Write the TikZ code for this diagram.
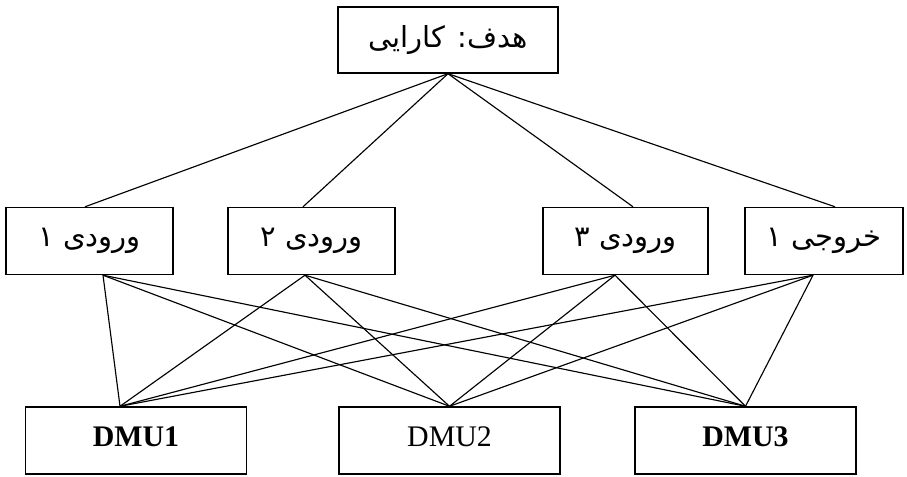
\documentclass[tikz,border=0pt]{standalone}
\usepackage{fontspec}
\setmainfont{Liberation Serif}
\newfontfamily\arabicfont[Script=Arabic]{DejaVu Sans}
\TeXXeTstate=1

\begin{document}
\begin{tikzpicture}

\def\boxh{1.34cm}
\def\midw{3.34cm}
\def\dmuw{4.42cm}
\def\midy{4.72}
\def\dmuy{0.73}
\def\dmulift{0.16cm}

\tikzset{box/.style = {draw, rectangle, line width=0.8pt, inner sep=0pt, minimum height=\boxh}}
\tikzset{fa/.style = {box, minimum width=\midw, font=\arabicfont\fontsize{16.5}{19}\selectfont}}
\tikzset{dmu/.style = {box, minimum width=\dmuw, font=\fontsize{17}{20}\selectfont}}
\tikzset{link/.style = {line width=0.65pt}}

\useasboundingbox (0,0) rectangle (18.14,9.54);

% goal
\node[fa, minimum width=4.4cm, minimum height=1.32cm] (goal) at (8.96,8.74) {\beginR هدف: کارایی\endR};

% inputs and output
\node[fa] (in1) at (1.79,\midy) {\beginR ورودی ۱\endR};
\node[fa] (in2) at (6.23,\midy) {\beginR ورودی ۲\endR};
\node[fa, minimum width=3.3cm] (in3) at (12.51,\midy) {\beginR ورودی ۳\endR};
\node[fa, minimum width=3.16cm] (out1) at (16.48,\midy) {\beginR خروجی ۱\endR};

% units
\node[dmu] (dmu1) at (2.72,\dmuy) {\raisebox{\dmulift}{\textbf{DMU1}}};
\node[dmu] (dmu2) at (8.99,\dmuy) {\raisebox{\dmulift}{DMU2}};
\node[dmu] (dmu3) at (14.91,\dmuy) {\raisebox{\dmulift}{\textbf{DMU3}}};

\coordinate (in1t) at ([xshift=-0.09cm]in1.north);
\coordinate (in1b) at ([xshift=0.27cm]in1.south);
\coordinate (in2t) at ([xshift=-0.17cm]in2.north);
\coordinate (in2b) at ([xshift=-0.13cm]in2.south);
\coordinate (in3t) at ([xshift=0.15cm]in3.north);
\coordinate (in3b) at ([xshift=-0.21cm]in3.south);
\coordinate (out1t) at ([xshift=0.22cm]out1.north);
\coordinate (out1b) at ([xshift=-0.22cm]out1.south);
\coordinate (dmu1t) at ([xshift=-0.32cm]dmu1.north);

% goal to criteria
\draw[link] (goal.south) -- (in1t);
\draw[link] (goal.south) -- (in2t);
\draw[link] (goal.south) -- (in3t);
\draw[link] (goal.south) -- (out1t);

% criteria to units
\draw[link] (in1b) -- (dmu1t);
\draw[link] (in1b) -- (dmu2.north);
\draw[link] (in1b) -- (dmu3.north);

\draw[link] (in2b) -- (dmu1t);
\draw[link] (in2b) -- (dmu2.north);
\draw[link] (in2b) -- (dmu3.north);

\draw[link] (in3b) -- (dmu1t);
\draw[link] (in3b) -- (dmu2.north);
\draw[link] (in3b) -- (dmu3.north);

\draw[link] (out1b) -- (dmu1t);
\draw[link] (out1b) -- (dmu2.north);
\draw[link] (out1b) -- (dmu3.north);

\end{tikzpicture}
\end{document}
